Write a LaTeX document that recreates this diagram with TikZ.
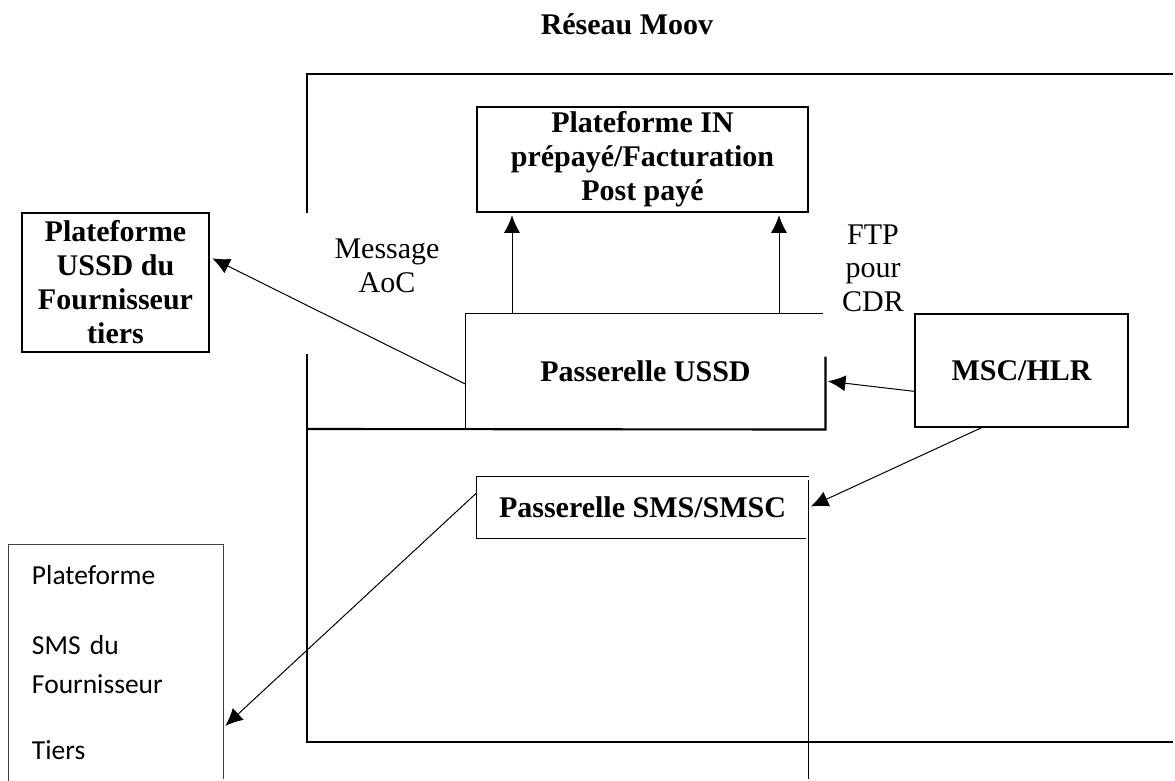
\documentclass[tikz,border=0pt]{standalone}
\usepackage{fontspec}
\setmainfont{Liberation Serif}
\newfontfamily\calibri{Carlito}
\usetikzlibrary{arrows.meta}

\begin{document}
\begin{tikzpicture}[x=0.4pt, y=-0.4pt, shorten >=1pt, >={Latex[length=7pt, width=6.4pt]},
                every node/.style={font=\bfseries\fontsize{12}{13.6}\selectfont, align=center, inner sep=0pt},
                every edge/.style={draw, line width=0.4pt},
                boite/.style={draw, line width=0.6pt},
                cadre/.style={line width=0.85pt},
                legende/.style={font=\fontsize{12}{13.4}\selectfont}]

                \useasboundingbox (0,0) rectangle (1175,781);

                \node (titre) at (627,24) {Réseau Moov};

                % cadre du réseau
                \draw[cadre] (307,213) -- (307,74) -- (1175,74);
                \draw[cadre] (307,354) -- (307,742) -- (1175,742);

                \node[boite, minimum width=132.4pt, minimum height=42pt] (IN) at (642.5,159.5) {Plateforme IN\\prépayé/Facturation\\Post payé};
                \node[minimum width=143.6pt, minimum height=46pt] (ussd) at (645.5,371.5) {Passerelle USSD};
                \node[boite, minimum width=85.2pt, minimum height=45.2pt] (msc) at (1021.5,370.5) {MSC/HLR};
                \node[boite, line width=0.8pt, minimum width=74.8pt, minimum height=55.6pt] (pussd) at (115.5,282.5) {Plateforme\\USSD du\\Fournisseur\\tiers};
                \node[minimum width=132.4pt, minimum height=24.4pt] (sms) at (642.5,507.5) {Passerelle SMS/SMSC};
                \node[minimum width=85.6pt, minimum height=94.4pt, text width=67.2pt, align=left,
                      font=\calibri\fontsize{11}{15.6}\selectfont] (psms) at (116,663) {Plateforme\\[12.4pt]SMS du\\Fournisseur\\[10.8pt]Tiers};

                \node[legende] (aoc) at (387,266) {Message\\AoC};
                \node[legende] (ftp) at (873,268) {FTP\\pour\\CDR};

                % bords ouverts des passerelles
                \draw[boite] (ussd.south west) -- (ussd.north west) -- (ussd.north east);
                \draw[cadre] (307,429) -- (ussd.south east) -- (ussd.east |- 0,354);
                \draw[boite] (sms.north east) -- (sms.north west) -- (sms.south west) -- (sms.south east);
                \draw[line width=0.7pt] (sms.east |- 0,480) -- (sms.east |- 0,781);
                \draw[line width=0.4pt, black!75] (psms.south west) -- (psms.north west) -- (psms.north east) -- (psms.south east);

                \path[->]
                    (ussd.north -| 512,0) edge (IN.south -| 512,0) % AoC
                    (ussd.north -| 779,0) edge (IN.south -| 779,0) % CDR
                    (ussd.184) edge (pussd.15)
                    (msc.191) edge (ussd.-3)
                    (msc.235) edge (sms.east)
                    (sms.175) edge (psms.-31);

                \end{tikzpicture}
\end{document}
